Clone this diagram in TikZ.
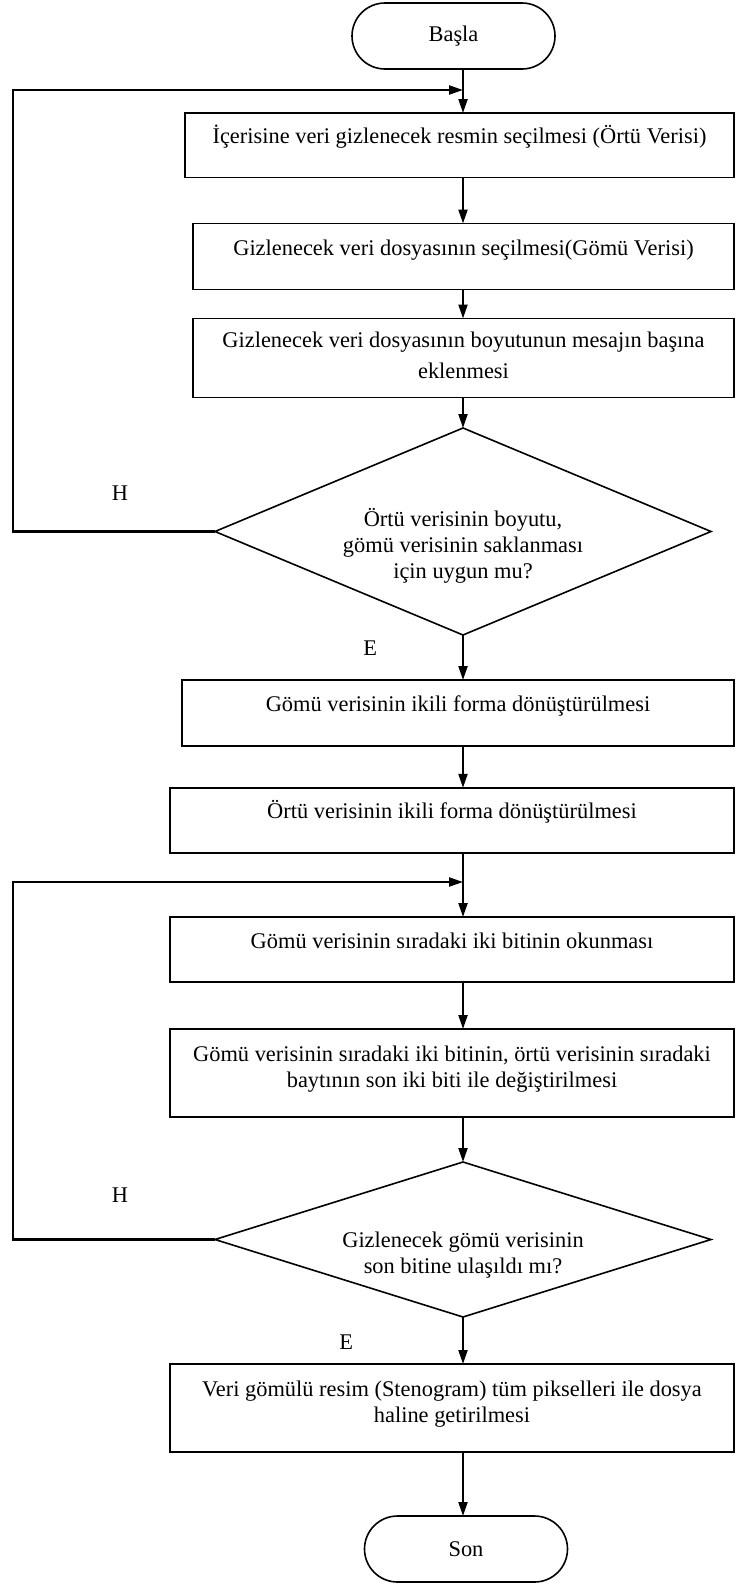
\documentclass[tikz,border=0pt]{standalone}
\usepackage{fontspec}
\setmainfont{Liberation Serif}
\usetikzlibrary{positioning,shapes.geometric,arrows.meta}

\begin{document}
\begin{tikzpicture}
[x=1pt,y=1pt,
 every node/.style={font=\fontsize{22.4}{26}\selectfont,inner sep=0pt,outer sep=0pt},
 term/.style={rectangle,draw=black,line width=1.6pt,rounded corners=33pt,minimum width=203pt,minimum height=66pt},
 box/.style={rectangle,draw=black,line width=1.6pt,align=center},
 dec/.style={diamond,draw=black,line width=1.6pt,minimum width=496pt,align=center},
 one/.style={text height=8pt,text depth=11pt},
 two/.style={text height=32pt,text depth=4pt},
 lbl/.style={},
 arr/.style={line width=2.2pt,-{Triangle[length=14pt,width=9pt]}}]
\useasboundingbox (0,0) rectangle (736,-1585);

\node[term] (bas) at (453.5,-36) {Başla};
\node[box,one,minimum width=549pt,minimum height=64.5pt] (s1) [on grid,below=109.25pt of bas,xshift=6pt] {İçerisine veri gizlenecek resmin seçilmesi (Örtü Verisi)};
\node[box,one,minimum width=541pt,minimum height=66pt]   (s2) [on grid,below=111.25pt of s1,xshift=4pt]  {Gizlenecek veri dosyasının seçilmesi(Gömü Verisi)};
\node[box,minimum width=541pt,minimum height=79pt,text height=45pt,text depth=4pt] (s3) [on grid,below=101.5pt of s2] {Gizlenecek veri dosyasının boyutunun mesajın başına\\[5pt]eklenmesi};
\node[dec,shape aspect=2.4,minimum height=207pt,text height=93pt,text depth=0pt] (d1) [on grid,below=173.5pt of s3,xshift=-0.5pt] {Örtü verisinin boyutu,\\gömü verisinin saklanması\\için uygun mu?};
\node[box,one,minimum width=552pt,minimum height=66pt]   (s4) [on grid,below=181.5pt of d1,xshift=-5pt]  {Gömü verisinin ikili forma dönüştürülmesi};
\node[box,one,minimum width=564pt,minimum height=65pt]   (s5) [on grid,below=107.3pt of s4,xshift=-6pt]  {Örtü verisinin ikili forma dönüştürülmesi};
\node[box,one,minimum width=564pt,minimum height=65pt]   (s6) [on grid,below=129.2pt of s5]              {Gömü verisinin sıradaki iki bitinin okunması};
\node[box,two,minimum width=564pt,minimum height=88pt]   (s7) [on grid,below=123.5pt of s6]              {Gömü verisinin sıradaki iki bitinin, örtü verisinin sıradaki\\baytının son iki biti ile değiştirilmesi};
\node[dec,shape aspect=3.2,minimum height=155pt,text height=68pt,text depth=0pt] (d2) [on grid,below=166.5pt of s7,xshift=11pt] {Gizlenecek gömü verisinin\\son bitine ulaşıldı mı?};
\node[box,two,minimum width=564pt,minimum height=88pt]   (s8) [on grid,below=168.5pt of d2,xshift=-11pt] {Veri gömülü resim (Stenogram) tüm pikselleri ile dosya\\haline getirilmesi};
\node[term] (son) [on grid,below=141pt of s8,xshift=14pt] {Son};

\node[lbl] (h1) [on grid,above left=31.5pt and 87pt of d1.west]  {H};
\node[lbl] (e1) [on grid,below left=6pt and 86pt of d1.south]    {E};
\node[lbl] (h2) [on grid,above left=37.5pt and 87pt of d2.west]  {H};
\node[lbl] (e2) [on grid,below left=18pt and 110pt of d2.south]  {E};

\coordinate (j1) at (463,-90);
\coordinate (k1) at (13,-90);
\coordinate (j2) at (463,-882);
\coordinate (k2) at (13,-882);

\draw[arr] (bas.south -| d1) -- (s1.north -| d1);
\draw[arr] (s1.south -| d1)  -- (s2.north -| d1);
\draw[arr] (s2.south -| d1)  -- (s3.north -| d1);
\draw[arr] (s3.south -| d1)  -- (d1.north);
\draw[arr] (d1.south)        -- (s4.north -| d1);
\draw[arr] (s4.south -| d1)  -- (s5.north -| d1);
\draw[arr] (s5.south -| d1)  -- (s6.north -| d1);
\draw[arr] (s6.south -| d1)  -- (s7.north -| d1);
\draw[arr] (s7.south -| d1)  -- (d2.north -| d1);
\draw[arr] (d2.south -| d1)  -- (s8.north -| d1);
\draw[arr] (s8.south -| d1)  -- (son.north -| d1);

\draw[arr] (d1.west) -| (k1) -- (j1);
\draw[arr] (d2.west) -| (k2) -- (j2);
\end{tikzpicture}
\end{document}
